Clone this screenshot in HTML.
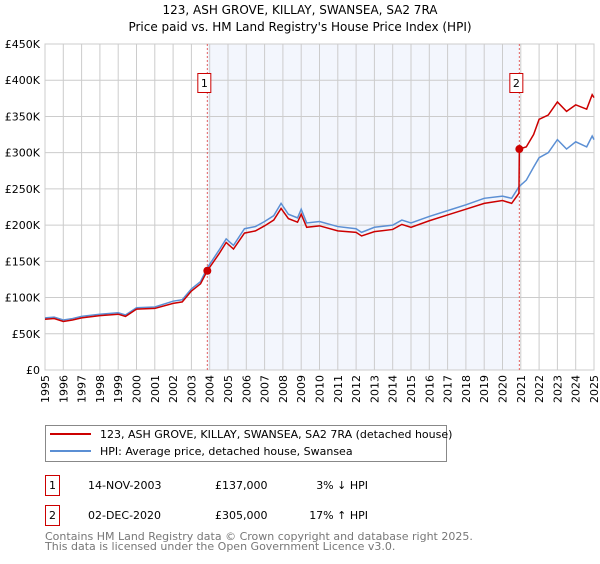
<!DOCTYPE html>
<html><head><meta charset="utf-8"><style>
body{margin:0;background:#fff;font-family:"DejaVu Sans","Liberation Sans",sans-serif;}
svg text{font-family:"DejaVu Sans","Liberation Sans",sans-serif;}
</style></head><body>
<svg id="chart" width="600" height="560" xmlns="http://www.w3.org/2000/svg">
<text x="300" y="14" font-size="12" text-anchor="middle" fill="#000">123, ASH GROVE, KILLAY, SWANSEA, SA2 7RA</text>
<text x="300" y="31" font-size="12" text-anchor="middle" fill="#000">Price paid vs. HM Land Registry's House Price Index (HPI)</text>
<g id="plot"></g>
<g>
<rect x="45.5" y="425.5" width="401" height="36" fill="#fff" stroke="#888"/>
<line x1="50" y1="434" x2="91" y2="434" stroke="#cc0000" stroke-width="2"/>
<text x="100" y="438" font-size="11">123, ASH GROVE, KILLAY, SWANSEA, SA2 7RA (detached house)</text>
<line x1="50" y1="451" x2="91" y2="451" stroke="#5b8fd4" stroke-width="2"/>
<text x="100" y="455" font-size="11">HPI: Average price, detached house, Swansea</text>
</g>
<g font-size="11">
<rect x="45.5" y="475.5" width="14" height="20" fill="#fff" stroke="#cc0000"/>
<text x="52.5" y="489" text-anchor="middle">1</text>
<text x="88" y="489">14-NOV-2003</text>
<text x="215" y="489">£137,000</text>
<text x="368" y="489" text-anchor="end">3% ↓ HPI</text>
<rect x="45.5" y="505.5" width="14" height="20" fill="#fff" stroke="#cc0000"/>
<text x="52.5" y="519" text-anchor="middle">2</text>
<text x="88" y="519">02-DEC-2020</text>
<text x="215" y="519">£305,000</text>
<text x="368" y="519" text-anchor="end">17% ↑ HPI</text>
</g>
<text x="45" y="540" font-size="11" fill="#777">Contains HM Land Registry data © Crown copyright and database right 2025.</text>
<text x="45" y="550" font-size="11" fill="#777">This data is licensed under the Open Government Licence v3.0.</text>
</svg>
<script>
const hpiYears=[1995,1995.5,1996,1996.5,1997,1998,1999,1999.4,2000,2001,2002,2002.5,2003,2003.5,2003.87,2004.5,2004.9,2005.3,2005.9,2006.5,2007,2007.5,2007.9,2008.3,2008.8,2009,2009.3,2010,2011,2012,2012.3,2013,2014,2014.5,2015,2016,2017,2018,2019,2020,2020.5,2020.9,2021.3,2021.7,2022,2022.5,2023,2023.5,2024,2024.6,2024.9,2025];
const hpiValues=[72,73,69,71,74,77,79,76,86,87,95,97,112,122,141,165,181,172,195,198,205,213,230,215,210,222,203,205,198,195,190,197,200,207,203,212,220,228,237,240,237,253,262,280,293,300,318,305,315,308,323,318];
const redYears=[1995,1995.5,1996,1996.5,1997,1998,1999,1999.4,2000,2001,2002,2002.5,2003,2003.5,2003.87,2004.5,2004.9,2005.3,2005.9,2006.5,2007,2007.5,2007.9,2008.3,2008.8,2009,2009.3,2010,2011,2012,2012.3,2013,2014,2014.5,2015,2016,2017,2018,2019,2020,2020.5,2020.9,2020.92,2021.3,2021.7,2022,2022.5,2023,2023.5,2024,2024.6,2024.9,2025];
const redValues=[70,71,67,69,72,75,77,74,84,85,92,94,109,119,137,160,176,167,189,192,199,207,223,209,204,215,197,199,192,190,185,191,194,201,197,206,214,222,230,234,230,244,305,308,325,346,352,370,357,366,360,380,376];
const saleYears=[2003.87,2020.92];
const saleValues=[137,305];
const saleLabels=["1","2"];
const yTicks=[0,50,100,150,200,250,300,350,400,450];
const yTickLabels=["£0","£50K","£100K","£150K","£200K","£250K","£300K","£350K","£400K","£450K"];
const xTicks=[1995,1996,1997,1998,1999,2000,2001,2002,2003,2004,2005,2006,2007,2008,2009,2010,2011,2012,2013,2014,2015,2016,2017,2018,2019,2020,2021,2022,2023,2024,2025];

const X0=45,X1=594,Y0=370,Y1=44;
const xs=y=>X0+(y-1995)/30*(X1-X0);
const ys=v=>Y0-v/450*(Y0-Y1);
const NS="http://www.w3.org/2000/svg";
const g=document.getElementById('plot');
function mk(t,a){const e=document.createElementNS(NS,t);for(const k in a)e.setAttribute(k,a[k]);g.appendChild(e);return e;}
const shade=mk('rect',{x:xs(saleYears[0]),y:Y1,width:xs(saleYears[1])-xs(saleYears[0]),height:Y0-Y1,fill:'#f3f6fd'});


yTicks.forEach((v,i)=>{
 const l=mk('line',{x1:X0,x2:X1,y1:ys(v),y2:ys(v),stroke:'#ccc'});
 
 
 const t=mk('text',{x:40,y:ys(v)+4,'font-size':11,'text-anchor':'end'});
 t.textContent=yTickLabels[i];
 
 
});
xTicks.forEach(yr=>{
 const l=mk('line',{x1:xs(yr),x2:xs(yr),y1:Y1,y2:Y0,stroke:'#ccc'});
 
 
 const t=mk('text',{x:0,y:0,'font-size':11,'text-anchor':'end',transform:`translate(${xs(yr)+4},375) rotate(-90)`});
 t.textContent=yr;
 
 
});
const border=mk('rect',{x:X0,y:Y1,width:X1-X0,height:Y0-Y1,fill:'none',stroke:'#ccc'});


saleYears.forEach((yr,i)=>{
 const l=mk('line',{x1:xs(yr),x2:xs(yr),y1:Y1,y2:Y0,stroke:'#e06060','stroke-dasharray':'2,2'});
 
 
 const r=mk('rect',{x:xs(yr)-9.5,y:73.5,width:13,height:19,fill:'#fff',stroke:'#cc0000'});
 
 
 const t=mk('text',{x:xs(yr)-3,y:87,'font-size':11,'text-anchor':'middle'});
 t.textContent=saleLabels[i];
 
 
});
const hp=mk('polyline',{points:hpiYears.map((y,i)=>xs(y)+','+ys(hpiValues[i])).join(' '),fill:'none',stroke:'#5b8fd4','stroke-width':1.5});


const rp=mk('polyline',{points:redYears.map((y,i)=>xs(y)+','+ys(redValues[i])).join(' '),fill:'none',stroke:'#cc0000','stroke-width':1.5});


saleYears.forEach((yr,i)=>{
 const c=mk('circle',{cx:xs(yr),cy:ys(saleValues[i]),r:4,fill:'#cc0000'});
 
 
});
</script>
</body></html>
